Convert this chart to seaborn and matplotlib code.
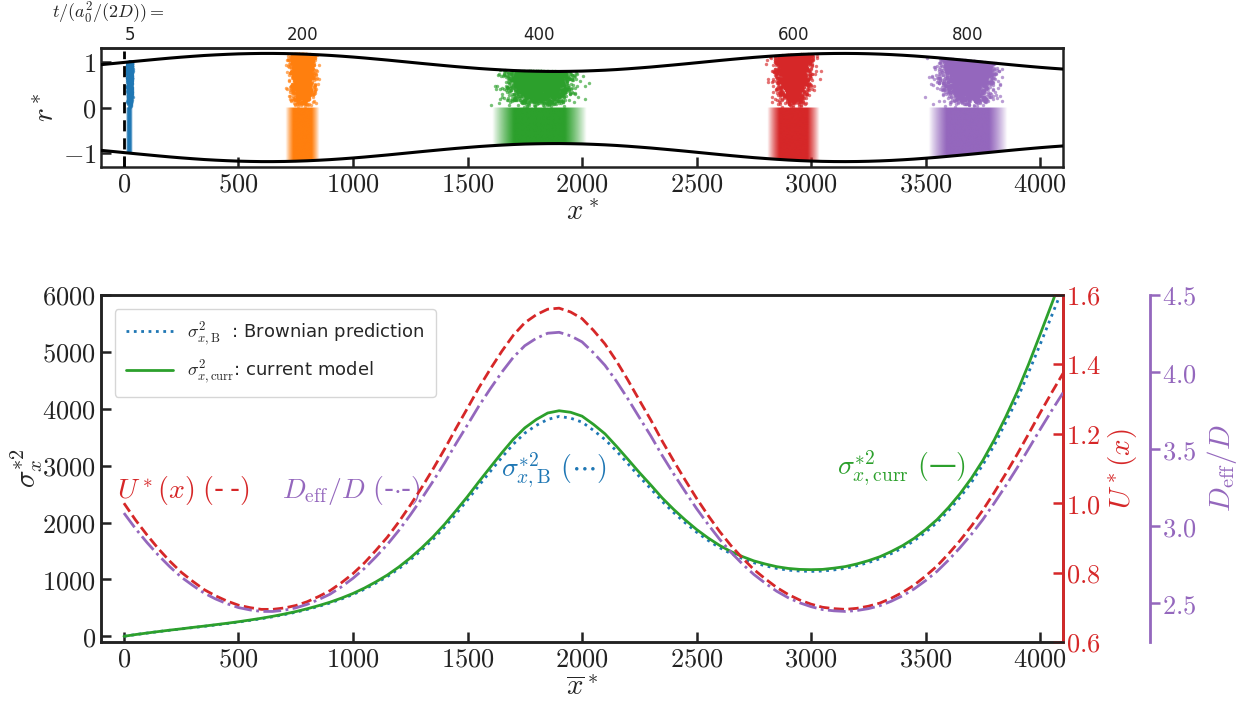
import numpy as np
import matplotlib
matplotlib.use("Agg")
import matplotlib.pyplot as plt
from matplotlib.patches import Polygon
from matplotlib.colors import to_rgb
from matplotlib.ticker import FuncFormatter
import seaborn as sns

# ---------------------------------------------------------------- data
# channel wall radius r_w(x*) sampled every 50 units from -100 to 4100
x_wall = np.arange(-100, 4101, 50)
wall_radius = [0.951, 0.975, 1.000, 1.025, 1.049, 1.073, 1.096, 1.117, 1.136,
               1.154, 1.168, 1.180, 1.190, 1.196, 1.200, 1.200, 1.197, 1.191,
               1.182, 1.170, 1.156, 1.139, 1.120, 1.099, 1.076, 1.053, 1.028,
               1.003, 0.978, 0.954, 0.930, 0.907, 0.886, 0.866, 0.849, 0.834,
               0.821, 0.811, 0.805, 0.801, 0.800, 0.803, 0.808, 0.817, 0.828,
               0.842, 0.859, 0.878, 0.898, 0.921, 0.944, 0.968, 0.993, 1.018,
               1.043, 1.067, 1.090, 1.112, 1.131, 1.149, 1.165, 1.178, 1.188,
               1.195, 1.199, 1.200, 1.198, 1.193, 1.185, 1.174, 1.160, 1.144,
               1.125, 1.105, 1.082, 1.059, 1.035, 1.010, 0.985, 0.960, 0.936,
               0.913, 0.891, 0.871, 0.853]

# mean position of the cloud, sampled every 50 units from 0 to 4100
x_mean = np.arange(0, 4101, 50)
sigma2_brownian = [0, 29, 56, 82, 106, 129, 152, 175, 199, 224, 250, 279, 309,
                   343, 381, 423, 472, 526, 585, 656, 734, 827, 933, 1050,
                   1187, 1342, 1516, 1707, 1920, 2155, 2396, 2651, 2900, 3145,
                   3377, 3571, 3707, 3812, 3865, 3835, 3765, 3620, 3460, 3258,
                   3035, 2808, 2594, 2371, 2175, 1996, 1831, 1687, 1559, 1453,
                   1367, 1293, 1239, 1193, 1163, 1147, 1140, 1147, 1167, 1195,
                   1240, 1296, 1363, 1453, 1555, 1679, 1829, 2000, 2207, 2441,
                   2705, 3015, 3360, 3761, 4170, 4641, 5130, 5630, 6130]
sigma2_current = [0, 30, 57, 83, 108, 131, 156, 179, 204, 229, 256, 286, 317,
                  352, 391, 434, 484, 539, 600, 672, 753, 848, 957, 1077, 1218,
                  1377, 1555, 1751, 1969, 2210, 2457, 2719, 2974, 3226, 3464,
                  3663, 3810, 3925, 3965, 3938, 3870, 3725, 3560, 3342, 3113,
                  2880, 2660, 2432, 2231, 2047, 1878, 1730, 1599, 1490, 1402,
                  1326, 1271, 1224, 1193, 1176, 1171, 1176, 1198, 1226, 1272,
                  1329, 1398, 1490, 1595, 1722, 1876, 2051, 2264, 2504, 2779,
                  3092, 3455, 3858, 4298, 4785, 5306, 5836, 6373]
mean_velocity = [1.000, 0.952, 0.909, 0.869, 0.833, 0.801, 0.775, 0.751, 0.733,
                 0.718, 0.706, 0.699, 0.694, 0.694, 0.698, 0.705, 0.716, 0.731,
                 0.748, 0.771, 0.797, 0.828, 0.864, 0.902, 0.946, 0.994, 1.045,
                 1.099, 1.156, 1.216, 1.274, 1.333, 1.387, 1.438, 1.484, 1.520,
                 1.543, 1.559, 1.562, 1.551, 1.532, 1.498, 1.459, 1.410, 1.355,
                 1.297, 1.240, 1.179, 1.122, 1.067, 1.014, 0.965, 0.919, 0.878,
                 0.842, 0.809, 0.782, 0.757, 0.737, 0.721, 0.709, 0.700, 0.696,
                 0.694, 0.697, 0.703, 0.712, 0.726, 0.743, 0.764, 0.790, 0.819,
                 0.854, 0.892, 0.934, 0.980, 1.031, 1.085, 1.141, 1.200, 1.260,
                 1.318, 1.374]
d_eff_ratio = [3.086, 2.986, 2.896, 2.813, 2.738, 2.671, 2.617, 2.567, 2.529,
               2.498, 2.473, 2.458, 2.448, 2.448, 2.456, 2.471, 2.494, 2.525,
               2.560, 2.608, 2.663, 2.727, 2.802, 2.882, 2.973, 3.073, 3.180,
               3.293, 3.411, 3.537, 3.658, 3.781, 3.893, 4.000, 4.096, 4.171,
               4.219, 4.252, 4.258, 4.235, 4.196, 4.125, 4.044, 3.941, 3.827,
               3.706, 3.587, 3.459, 3.340, 3.226, 3.115, 3.013, 2.917, 2.832,
               2.756, 2.688, 2.631, 2.579, 2.537, 2.504, 2.479, 2.460, 2.452,
               2.448, 2.454, 2.466, 2.485, 2.514, 2.550, 2.594, 2.648, 2.708,
               2.781, 2.861, 2.948, 3.044, 3.151, 3.263, 3.380, 3.503, 3.628,
               3.749, 3.866]

# particle snapshots: time labels, cloud centre and spread along x*
snapshot_times = ["5", "200", "400", "600", "800"]
cloud_centers = [25, 778, 1813, 2922, 3684]
cloud_spreads = [4, 22, 62, 34, 52]

C_BLUE, C_ORANGE, C_GREEN, C_RED, C_PURPLE = sns.color_palette("tab10", 5)
cloud_colors = [C_BLUE, C_ORANGE, C_GREEN, C_RED, C_PURPLE]

# ---------------------------------------------------------------- style
sns.set_theme(style="ticks")
plt.rcParams.update({
    "font.family": ["DejaVu Sans"],
    "mathtext.fontset": "cm",
    "axes.edgecolor": "#222222",
    "axes.linewidth": 1.8,
    "xtick.direction": "in",
    "ytick.direction": "in",
    "xtick.major.size": 7,
    "ytick.major.size": 7,
    "xtick.major.width": 1.8,
    "ytick.major.width": 1.8,
    "xtick.labelsize": 19,
    "ytick.labelsize": 19,
    "xtick.color": "#222222",
    "ytick.color": "#222222",
    "axes.labelsize": 21,
})

math_int = FuncFormatter(lambda v, p: f"${v:g}$")
math_1dp = FuncFormatter(lambda v, p: f"${v:.1f}$")

fig = plt.figure(figsize=(12.49, 7.02), dpi=100)
ax_top = fig.add_axes([0.0809, 0.7621, 0.7702, 0.1695])
ax = fig.add_axes([0.0809, 0.0855, 0.7702, 0.4943])

# ---------------------------------------------------------------- top panel
wall = np.array(wall_radius)
sns.lineplot(x=x_wall, y=wall, color="black", lw=2.2, ax=ax_top,
             sort=False, estimator=None, zorder=4)
sns.lineplot(x=x_wall, y=-wall, color="black", lw=2.2, ax=ax_top,
             sort=False, estimator=None, zorder=4)
ax_top.plot([0, 0], [-1.32, 1.25], color="black", lw=2, ls=(0, (4, 2.5)),
            zorder=4)

lower_region = Polygon(
    np.column_stack([np.r_[x_wall, x_wall[::-1]],
                     np.r_[np.zeros(len(x_wall)), -wall[::-1]]]),
    closed=True, transform=ax_top.transData)

rng = np.random.default_rng(11)
n_particles = 2500
for c, s, col in zip(cloud_centers, cloud_spreads, cloud_colors):
    # particles in the upper half of the channel
    xs = rng.normal(c, s, n_particles)
    rs = np.interp(xs, x_wall, wall) * np.sqrt(rng.uniform(0, 1, n_particles))
    sns.scatterplot(x=xs, y=rs, color=col, s=6, alpha=0.65, linewidth=0,
                    ax=ax_top, zorder=3)
    # axial density in the lower half
    gx = np.linspace(c - 3.6 * s, c + 3.6 * s, 400)
    z = (gx - c) / s
    a = np.clip((3.3 ** 2 - z ** 2) / (3.3 ** 2 - 1.8 ** 2), 0, 1)
    rgba = np.zeros((1, gx.size, 4))
    rgba[..., :3] = to_rgb(col)
    rgba[0, :, 3] = a
    im = ax_top.imshow(rgba, extent=(gx[0], gx[-1], -1.3, 0), aspect="auto",
                       interpolation="bilinear", zorder=2)
    im.set_clip_path(lower_region)

ax_top.set_xlim(-100, 4100)
ax_top.set_ylim(-1.32, 1.32)
ax_top.set_xticks(np.arange(0, 4001, 500))
ax_top.set_yticks([-1, 0, 1])
ax_top.xaxis.set_major_formatter(math_int)
ax_top.yaxis.set_major_formatter(math_int)
ax_top.set_xlabel(r"$x^*$", labelpad=0)
ax_top.set_ylabel(r"$r^*$", labelpad=2)

sec = ax_top.secondary_xaxis("top")
sec.set_xticks(cloud_centers, snapshot_times)
sec.tick_params(length=0, labelsize=12, pad=3)
fig.text(0.042, 0.999, r"$t/(a_0^2/(2D)) =$", fontsize=13, va="top",
         ha="left")

# ---------------------------------------------------------------- bottom panel
sns.lineplot(x=x_mean, y=sigma2_brownian, color=C_BLUE, lw=2, ls=":",
             ax=ax, label=r"$\sigma^2_{x,\mathrm{B}}$  : Brownian prediction")
sns.lineplot(x=x_mean, y=sigma2_current, color=C_GREEN, lw=2,
             ax=ax, label=r"$\sigma^2_{x,\mathrm{curr}}$: current model")
ax.set_xlim(-100, 4100)
ax.set_ylim(-100, 6000)
ax.set_xticks(np.arange(0, 4001, 500))
ax.set_yticks(np.arange(0, 6001, 1000))
ax.xaxis.set_major_formatter(math_int)
ax.yaxis.set_major_formatter(math_int)
ax.set_xlabel(r"$\overline{x}^*$", labelpad=0)
ax.set_ylabel(r"$\sigma_x^{*2}$", labelpad=-2)
ax.legend(loc="upper left", fontsize=13, handlelength=2.6,
          borderpad=0.6, labelspacing=0.6, bbox_to_anchor=(0.005, 0.985))

ax_u = ax.twinx()
sns.lineplot(x=x_mean, y=mean_velocity, color=C_RED, lw=2, ls="--",
             ax=ax_u, legend=False)
ax_u.set_ylim(0.6, 1.6)
ax_u.set_yticks(np.arange(0.6, 1.61, 0.2))
ax_u.yaxis.set_major_formatter(math_1dp)
ax_u.spines["right"].set_color(C_RED)
ax_u.spines["right"].set_linewidth(2)
ax_u.tick_params(axis="y", colors=C_RED, direction="in", pad=2)
ax_u.set_ylabel(r"$U^*(x)$", color=C_RED, labelpad=4)

ax_d = ax.twinx()
ax_d.spines["right"].set_position(("axes", 1.09))
for side in ("left", "top", "bottom"):
    ax_d.spines[side].set_visible(False)
sns.lineplot(x=x_mean, y=d_eff_ratio, color=C_PURPLE, lw=2, ls="-.",
             ax=ax_d, legend=False)
ax_d.set_ylim(2.25, 4.5)
ax_d.set_yticks(np.arange(2.5, 4.51, 0.5))
ax_d.yaxis.set_major_formatter(math_1dp)
ax_d.spines["right"].set_color(C_PURPLE)
ax_d.spines["right"].set_linewidth(2)
ax_d.tick_params(axis="y", colors=C_PURPLE, direction="out", pad=2)
ax_d.set_ylabel(r"$D_\mathrm{eff}/D$", color=C_PURPLE, labelpad=6)
ax_d.set_xlim(-100, 4100)
ax_u.set_xlim(-100, 4100)

# curve annotations
ax.text(-31, 2570, "$U^*(x)\\ ($-\u2009-$)$", color=C_RED, fontsize=20,
        ha="left", va="center")
ax.text(689, 2570, r"$D_\mathrm{eff}/D\ ($-$\cdot$-$)$", color=C_PURPLE,
        fontsize=20, ha="left", va="center")
ax.text(1645, 2923, r"$\sigma^{*2}_{x,\mathrm{B}}\ (\cdots)$",
        color=C_BLUE, fontsize=20, ha="left", va="center")
ax.text(3115, 2958, r"$\sigma^{*2}_{x,\mathrm{curr}}\ ($—$)$", color=C_GREEN,
        fontsize=20, ha="left", va="center")

fig.savefig("out.png", dpi=100)
